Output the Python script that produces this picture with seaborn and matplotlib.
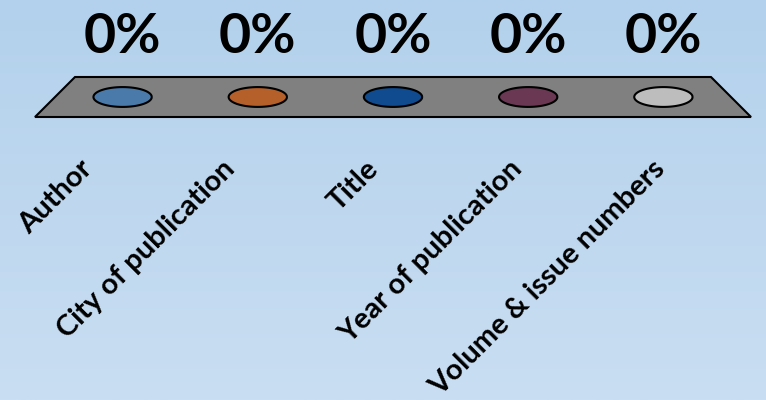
import numpy as np
import matplotlib
matplotlib.use("Agg")
import matplotlib.pyplot as plt
from matplotlib.colors import LinearSegmentedColormap
from matplotlib.path import Path
import pandas as pd
import seaborn as sns

# datos de la encuesta
categories = ['Author', 'City of publication', 'Title', 'Year of publication', 'Volume & issue numbers']
percent = [0, 0, 0, 0, 0]
colors = ['#4a7aaa', '#b5602a', '#0f4b8e', '#6b3854', '#bdbdbd']

sns.set_theme(style='white')
plt.rcParams['font.family'] = ['Lato', 'DejaVu Sans']

W, H = 766, 400
fig = plt.figure(figsize=(W / 100, H / 100), dpi=100)

# fondo degradado
bg = fig.add_axes([0, 0, 1, 1], zorder=-10)
grad = np.linspace(0, 1, 256).reshape(-1, 1)
cmap = LinearSegmentedColormap.from_list('bg', ['#b3d1ec', '#c9def2'])
bg.imshow(grad, aspect='auto', cmap=cmap, extent=[0, 1, 0, 1], origin='upper')
bg.axis('off')

# eje principal: suelo 3D en perspectiva
n = len(categories)
ax = fig.add_axes([55 / W, (H - 117) / H, 676 / W, 40 / H])
ax.set_xlim(-0.5, n - 0.5)
ax.set_ylim(-1, 1)
ax.axis('off')

inset = 0.148
floor_x = [-0.5 - inset, n - 0.5 + inset, n - 0.5 - inset, -0.5 + inset]
floor_y = [-1, -1, 1, 1]
ax.fill(floor_x, floor_y, facecolor='#808080', edgecolor='black', lw=1.5,
        clip_on=False, zorder=1)

# barras de altura 0 -> manchas elipticas
t = np.linspace(0, 2 * np.pi, 80)
blob = Path(np.column_stack([np.cos(t), 0.34 * np.sin(t)]))
df = pd.DataFrame({'cat': categories, 'x': range(n), 'pct': percent})
sns.scatterplot(data=df, x='x', y='pct', hue='cat', palette=colors, marker=blob,
                s=42 ** 2, edgecolor='black', linewidth=1.5, legend=False,
                ax=ax, zorder=3, clip_on=False)

# porcentajes
for i, p in enumerate(percent):
    ax.annotate(f'{p}%', (i, 1), xytext=(0, 29), textcoords='offset points',
                ha='center', va='center', fontsize=40, fontweight='bold',
                color='black', annotation_clip=False)

# etiquetas de categoria (borde frontal)
for i, cat in enumerate(categories):
    xf = -0.5 - inset + (n + 2 * inset) * (i + 0.5) / n
    ax.annotate(cat, (xf, -1), xytext=(-20, -28), textcoords='offset points',
                rotation=45, rotation_mode='anchor', ha='right', va='top',
                fontsize=21, fontweight='bold', color='black',
                annotation_clip=False)

fig.savefig('out.png', dpi=100)
